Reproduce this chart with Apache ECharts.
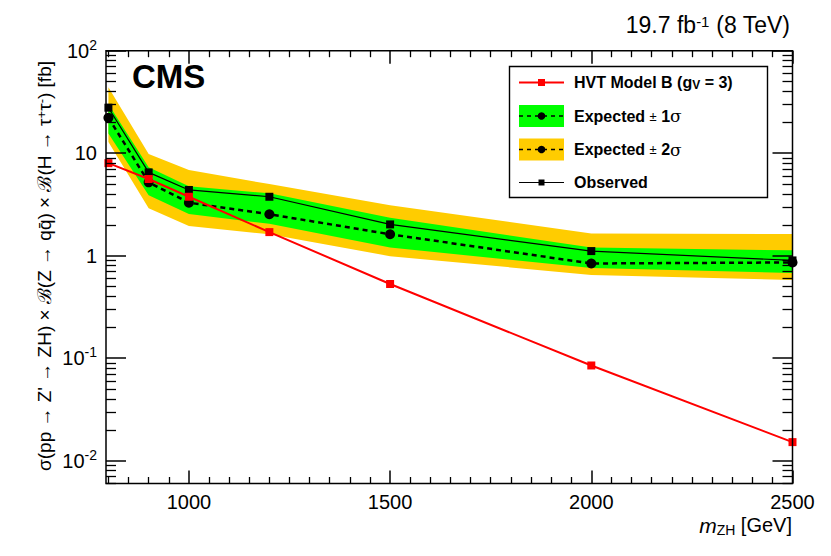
<!DOCTYPE html>
<html>
<head>
<meta charset="utf-8">
<script src="https://cdn.jsdelivr.net/npm/echarts@6/dist/echarts.min.js"></script>
<style>
  html, body { margin: 0; padding: 0; background: #fff; }
  #chart { width: 831px; height: 556px; }
</style>
</head>
<body>
<div id="chart"></div>
<script>
// Z' -> ZH -> qq tautau limits
const massPoints = [800, 900, 1000, 1200, 1500, 2000, 2500];
const hvtModelB = [8.0, 5.6, 3.76, 1.70, 0.53, 0.085, 0.0152];
const observed = [27.8, 6.5, 4.38, 3.76, 2.02, 1.11, 0.90];
const expected = [22.2, 5.2, 3.29, 2.54, 1.62, 0.84, 0.86];
const exp1Up = [30, 7.3, 4.75, 4.06, 2.35, 1.2, 1.13];
const exp1Down = [15.6, 3.9, 2.55, 2.05, 1.2, 0.76, 0.68];
const exp2Up = [44, 9.8, 6.85, 5.0, 3.1, 1.65, 1.63];
const exp2Down = [12.9, 2.9, 1.95, 1.62, 0.99, 0.65, 0.58];

const xTickValues = [1000, 1500, 2000, 2500];
const yTickValues = [0.01, 0.1, 1, 10, 100];

// minor ticks (ROOT style)
const xMinorTicks = [];
for (let v = 800; v < 2500; v += 50) {
  if (v % 500 !== 0) xMinorTicks.push(v);
}
const yMinorTicks = [];
[0.001, 0.01, 0.1, 1, 10].forEach(function (d) {
  for (let k = 2; k <= 9; k++) yMinorTicks.push(+(k * d).toPrecision(3));
});

const X_MIN = 794, X_MAX = 2500, Y_MIN = 0.006, Y_MAX = 100;
const FONT = 'Liberation Sans, Helvetica, Arial, sans-serif';

const chart = echarts.init(document.getElementById('chart'), null, { renderer: 'svg' });

function xAxisDef(pos, ticks, len, labels) {
  return {
    type: 'value', position: pos, min: X_MIN, max: X_MAX, z: 10,
    axisLine: { show: false },
    splitLine: { show: false },
    axisTick: { show: true, inside: true, length: len, customValues: ticks,
      lineStyle: { color: '#000', width: len > 10 ? 1.5 : 1.3 } },
    axisLabel: labels ? { show: true, customValues: ticks, margin: 8,
      color: '#000', fontSize: 20, fontFamily: FONT,
      formatter: function (v) { return String(v); } } : { show: false }
  };
}

function yAxisDef(pos, ticks, len, labels) {
  return {
    type: 'log', position: pos, min: Y_MIN, max: Y_MAX, logBase: 10, z: 10,
    axisLine: { show: false },
    splitLine: { show: false },
    axisTick: { show: true, inside: true, length: len, customValues: ticks,
      lineStyle: { color: '#000', width: len > 15 ? 1.5 : 1.3 } },
    axisLabel: labels ? {
      show: true, customValues: ticks, margin: 9, color: '#000',
      fontFamily: FONT,
      formatter: function (v) {
        const e = Math.round(Math.log10(v));
        if (e === 0) return '{b|1}';
        if (e === 1) return '{b|10}';
        return '{b|10}{s|' + e + '}';
      },
      rich: {
        b: { fontSize: 20, fontFamily: FONT, color: '#000', lineHeight: 26 },
        s: { fontSize: 14, fontFamily: FONT, color: '#000', verticalAlign: 'top', lineHeight: 14 }
      }
    } : { show: false }
  };
}

function bandSeries(name, lo, hi, color, z) {
  return {
    name: name, type: 'custom', coordinateSystem: 'cartesian2d',
    xAxisIndex: 0, yAxisIndex: 0, silent: true, z: z,
    data: massPoints.map(function (m, i) { return [m, hi[i]]; }),
    renderItem: function (params, api) {
      if (params.dataIndex !== 0) return null;
      const pts = [];
      for (let i = 0; i < massPoints.length; i++) pts.push(api.coord([massPoints[i], hi[i]]));
      for (let i = massPoints.length - 1; i >= 0; i--) pts.push(api.coord([massPoints[i], lo[i]]));
      return { type: 'polygon', shape: { points: pts }, style: { fill: color, stroke: null } };
    }
  };
}

function pairs(vals) {
  return massPoints.map(function (m, i) { return [m, vals[i]]; });
}

// legend drawn ROOT style
const LX = 519, LX2 = 564, LXC = 541.5, TX = 574;
const legendText = { fontFamily: FONT, fontSize: 16, fontWeight: 'bold', fill: '#000', textVerticalAlign: 'middle' };
function ltext(y, text, rich) {
  return { type: 'text', z: 101, style: Object.assign({ x: TX, y: y, text: text, rich: rich }, legendText) };
}
const richSig = {
  pm: { fontFamily: FONT, fontSize: 13, fontWeight: 'normal', fill: '#000' },
  sig: { fontFamily: 'DejaVu Serif, Liberation Serif, serif', fontSize: 17, fontWeight: 'normal', fill: '#000' }
};

const graphics = [
  { type: 'text', z: 100, style: { x: 132, y: 76, text: 'CMS', fontFamily: FONT, fontSize: 33, fontWeight: 'bold', fill: '#000', textVerticalAlign: 'middle' } },
  { type: 'text', z: 100, style: { x: 790, y: 25, text: '19.7 fb{sup|-1} (8 TeV)', textAlign: 'right', textVerticalAlign: 'middle', fontFamily: FONT, fontSize: 23, fill: '#000',
      rich: { sup: { fontFamily: FONT, fontSize: 15, fill: '#000', verticalAlign: 'top', lineHeight: 14 } } } },
  { type: 'text', z: 100, style: { x: 792, y: 525, text: '{it|m}{sub|ZH} [GeV]', textAlign: 'right', textVerticalAlign: 'middle', fontFamily: FONT, fontSize: 20, fill: '#000',
      rich: {
        it: { fontFamily: FONT, fontSize: 21, fontStyle: 'italic', fill: '#000', lineHeight: 24 },
        sub: { fontFamily: FONT, fontSize: 14, fill: '#000', verticalAlign: 'bottom', lineHeight: 14 }
      } } },
  { type: 'text', z: 100, x: 44, y: 266, rotation: Math.PI / 2,
    style: { x: 0, y: 0, text: 'σ(pp → Z\' → ZH) × ℬ(Z → qq̄) × ℬ(H → τ{sup|+}τ{sup|-}) [fb]', textAlign: 'center', textVerticalAlign: 'middle',
      fontFamily: FONT, fontSize: 19, fill: '#000',
      rich: { sup: { fontFamily: FONT, fontSize: 13, fill: '#000', verticalAlign: 'top', lineHeight: 13 } } } },
  // legend box
  { type: 'rect', z: 100, shape: { x: 509.5, y: 66.5, width: 258, height: 131 }, style: { fill: '#fff', stroke: '#000', lineWidth: 1.4 } },
  { type: 'line', z: 101, shape: { x1: LX, y1: 82.5, x2: LX2, y2: 82.5 }, style: { stroke: '#ff0000', lineWidth: 2 } },
  { type: 'rect', z: 102, shape: { x: LXC - 3.5, y: 79, width: 7, height: 7 }, style: { fill: '#ff0000' } },
  ltext(82.5, 'HVT Model B (g{sub|V} = 3)', { sub: { fontFamily: FONT, fontSize: 12, fontWeight: 'bold', fill: '#000', verticalAlign: 'bottom', lineHeight: 10 } }),
  { type: 'rect', z: 101, shape: { x: LX, y: 105, width: LX2 - LX, height: 22 }, style: { fill: '#00ff00' } },
  { type: 'line', z: 102, shape: { x1: LX, y1: 116, x2: LX2, y2: 116 }, style: { stroke: '#000', lineWidth: 1.5, lineDash: [4, 4] } },
  { type: 'circle', z: 103, shape: { cx: LXC, cy: 116, r: 3.8 }, style: { fill: '#000' } },
  ltext(116, 'Expected {pm|±} 1{sig|σ}', richSig),
  { type: 'rect', z: 101, shape: { x: LX, y: 138.5, width: LX2 - LX, height: 22 }, style: { fill: '#ffcc00' } },
  { type: 'line', z: 102, shape: { x1: LX, y1: 149.5, x2: LX2, y2: 149.5 }, style: { stroke: '#000', lineWidth: 1.5, lineDash: [4, 4] } },
  { type: 'circle', z: 103, shape: { cx: LXC, cy: 149.5, r: 3.8 }, style: { fill: '#000' } },
  ltext(149.5, 'Expected {pm|±} 2{sig|σ}', richSig),
  { type: 'line', z: 101, shape: { x1: LX, y1: 182.5, x2: LX2, y2: 182.5 }, style: { stroke: '#000', lineWidth: 1.2 } },
  { type: 'rect', z: 102, shape: { x: LXC - 3, y: 179.5, width: 6, height: 6 }, style: { fill: '#000' } },
  ltext(182.5, 'Observed', {})
];

const option = {
  backgroundColor: '#fff',
  animation: false,
  grid: { left: 106, right: 38.5, top: 50.7, bottom: 72.5, show: true, borderColor: '#000', borderWidth: 1.5, backgroundColor: 'transparent', z: 9 },
  xAxis: [
    xAxisDef('bottom', xTickValues, 13, true),
    xAxisDef('bottom', xMinorTicks, 6.5, false),
    xAxisDef('top', xTickValues, 13, false),
    xAxisDef('top', xMinorTicks, 6.5, false)
  ],
  yAxis: [
    yAxisDef('left', yTickValues, 20, true),
    yAxisDef('left', yMinorTicks, 10, false),
    yAxisDef('right', yTickValues, 20, false),
    yAxisDef('right', yMinorTicks, 10, false)
  ],
  series: [
    bandSeries('Expected ± 2σ', exp2Down, exp2Up, '#ffcc00', 1),
    bandSeries('Expected ± 1σ', exp1Down, exp1Up, '#00ff00', 2),
    {
      name: 'Observed', type: 'line', z: 4, data: pairs(observed),
      symbol: 'rect', symbolSize: 8, showSymbol: true,
      itemStyle: { color: '#000' }, lineStyle: { color: '#000', width: 1.2 }
    },
    {
      name: 'Expected', type: 'line', z: 5, data: pairs(expected),
      symbol: 'circle', symbolSize: 10, showSymbol: true,
      itemStyle: { color: '#000' }, lineStyle: { color: '#000', width: 2.5, type: [5, 4] }
    },
    {
      name: 'HVT Model B (gV = 3)', type: 'line', z: 6, data: pairs(hvtModelB),
      symbol: 'rect', symbolSize: 8, showSymbol: true,
      itemStyle: { color: '#ff0000' }, lineStyle: { color: '#ff0000', width: 2 }
    }
  ],
  graphic: graphics
};

chart.setOption(option);
</script>
</body>
</html>
